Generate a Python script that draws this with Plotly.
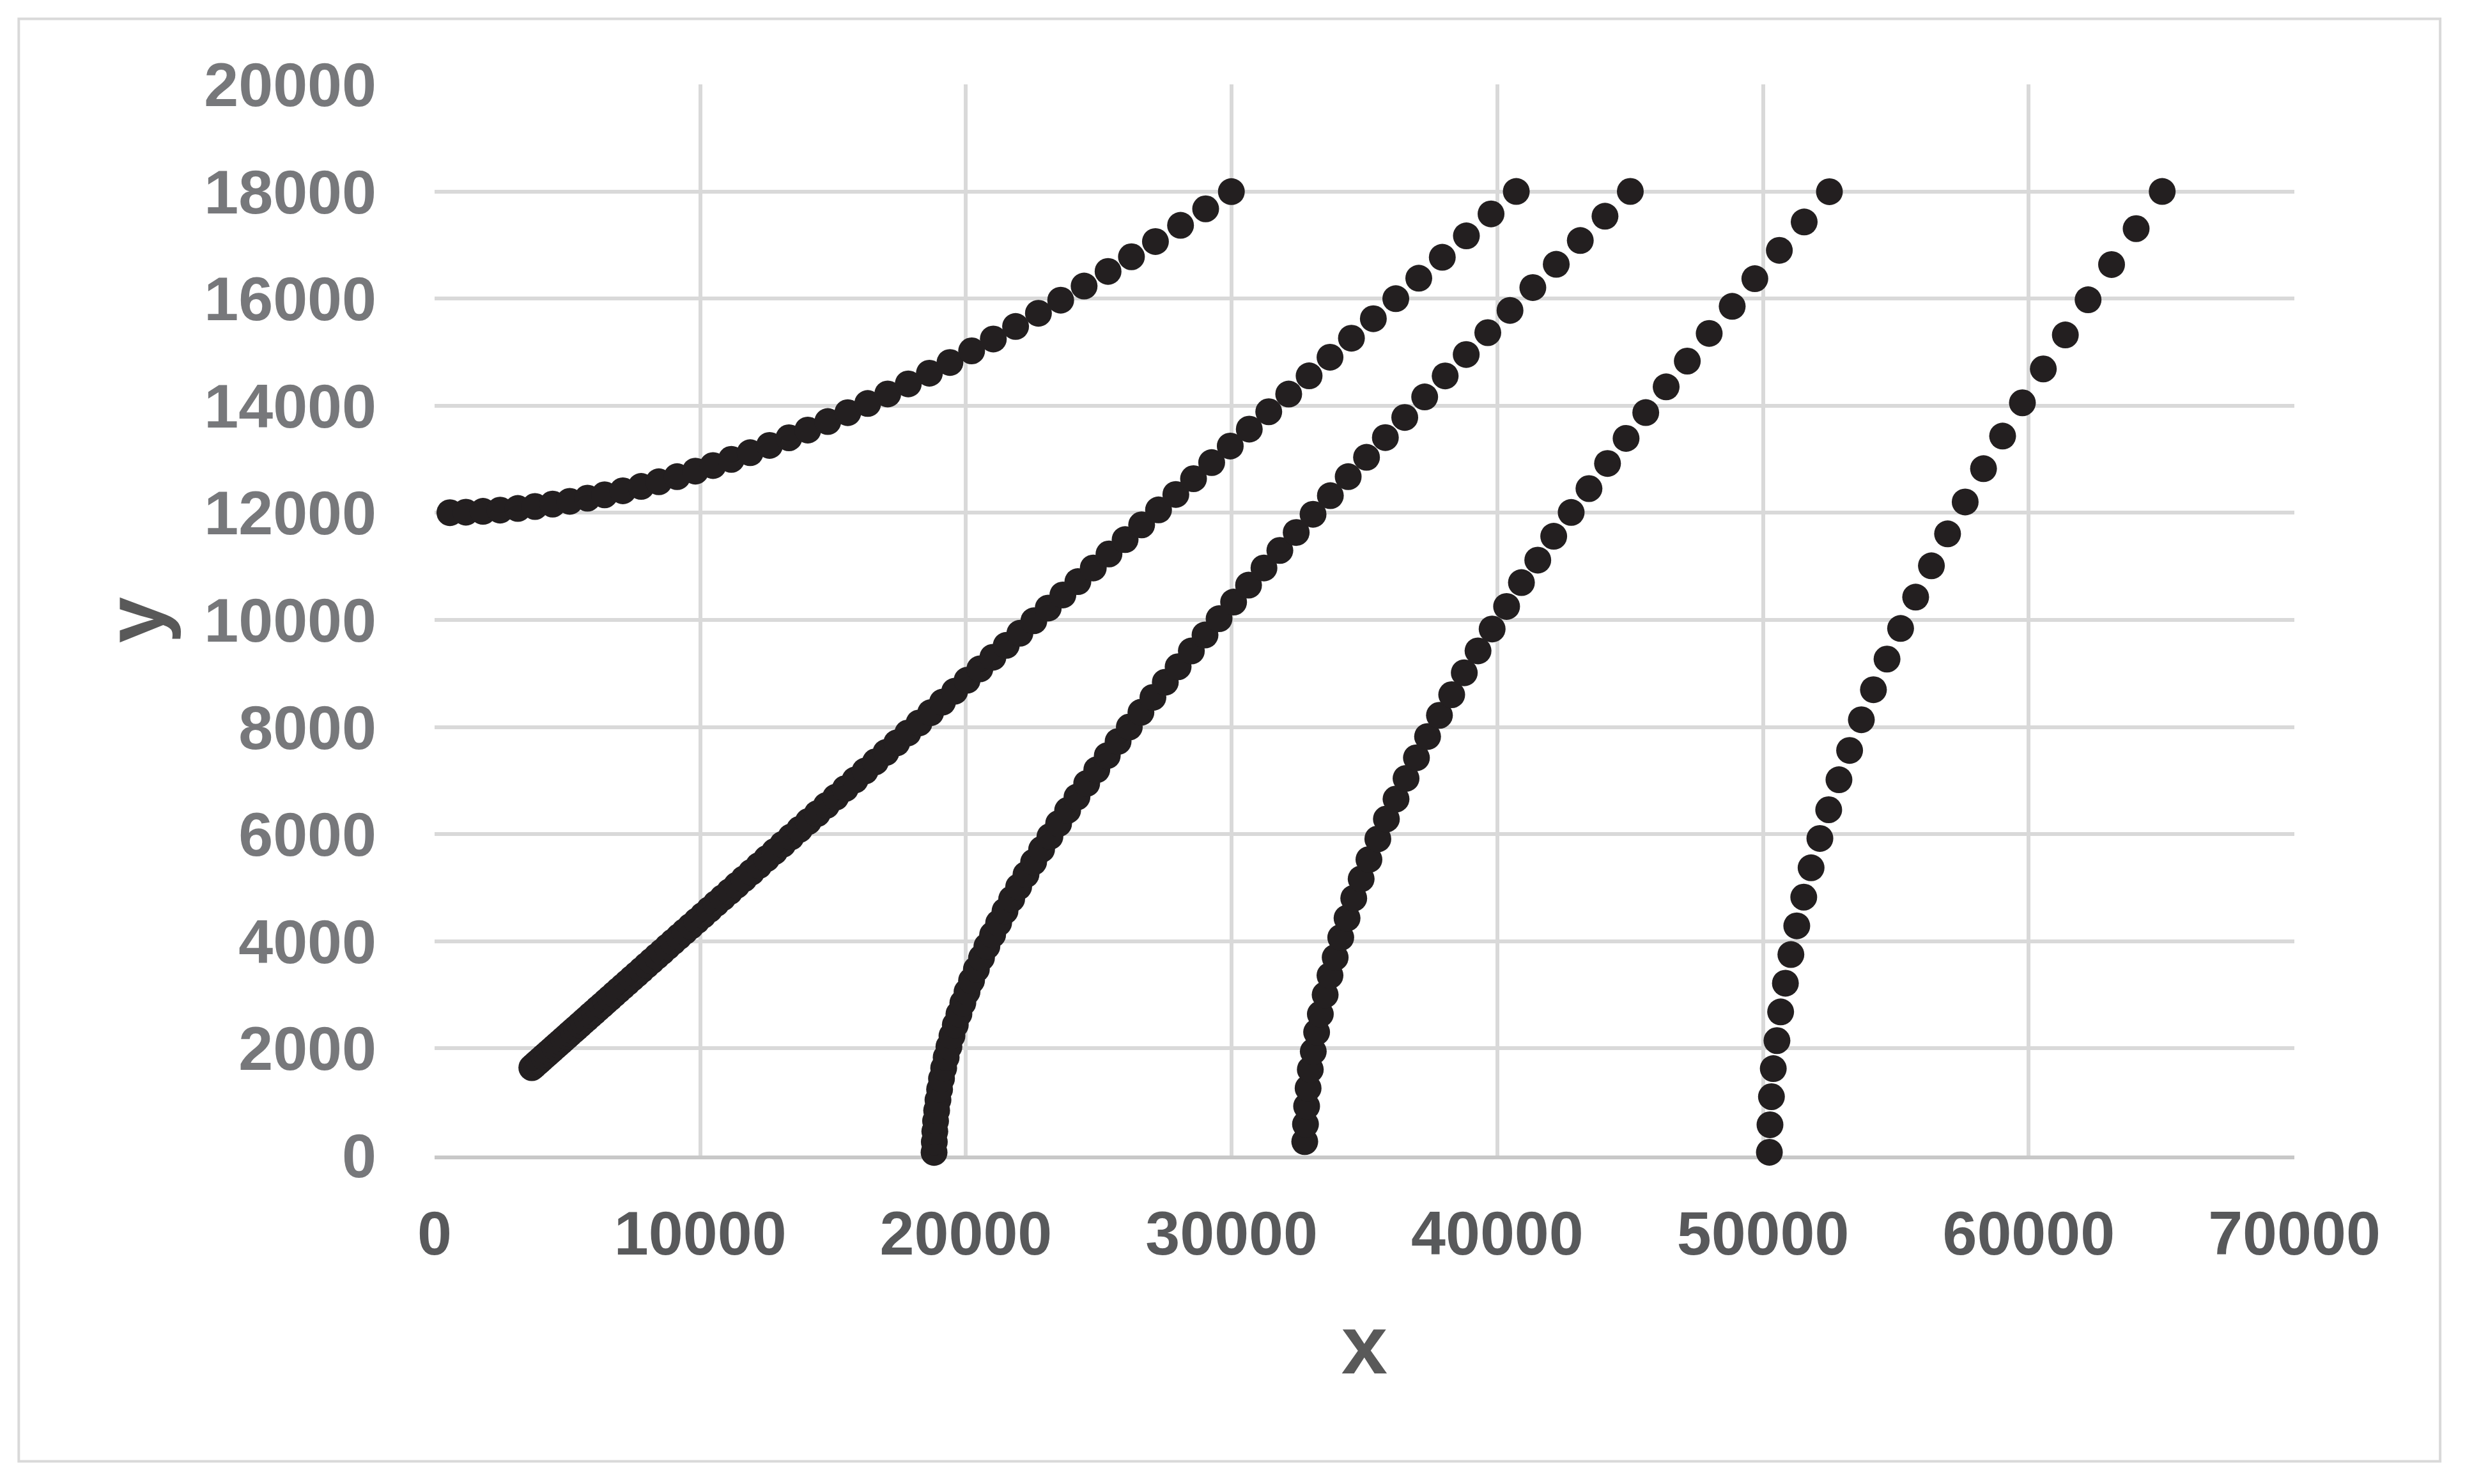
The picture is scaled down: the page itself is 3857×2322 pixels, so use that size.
import plotly.graph_objects as go

# Values (five dotted curves)

# Curve 1: starts near x=0, y=12000
s1_x = [577, 1178, 1823, 2467, 3133, 3778, 4444, 5088, 5755, 6399,
        7087, 7774, 8440, 9128, 9816, 10481, 11169, 11878, 12608, 13338,
        14047, 14799, 15552, 16303, 17055, 17829, 18624, 19398, 20214, 21030,
        21868, 22728, 23566, 24447, 25349, 26229, 27132, 28077, 29022, 29990]
s1_y = [12003, 12012, 12028, 12051, 12082, 12118, 12163, 12214, 12273, 12336,
        12411, 12493, 12580, 12675, 12778, 12883, 12998, 13123, 13259, 13401,
        13545, 13704, 13870, 14041, 14219, 14407, 14607, 14807, 15024, 15246,
        15480, 15726, 15971, 16234, 16508, 16781, 17065, 17368, 17676, 17997]

# Curve 2: almost straight, from (3660, 1640) to (40700, 18000)
s2_x = [3660, 3747, 3837, 3928, 4023, 4119, 4218, 4318, 4422, 4527,
        4636, 4746, 4860, 4975, 5094, 5216, 5341, 5468, 5599, 5733,
        5870, 6010, 6154, 6300, 6451, 6605, 6764, 6926, 7091, 7260,
        7433, 7611, 7793, 7979, 8170, 8365, 8565, 8769, 8979, 9194,
        9414, 9638, 9869, 10105, 10346, 10593, 10847, 11106, 11371, 11643,
        11921, 12206, 12498, 12796, 13102, 13415, 13736, 14065, 14401, 14745,
        15098, 15459, 15829, 16206, 16594, 16990, 17396, 17812, 18237, 18673,
        19119, 19576, 20044, 20524, 21014, 21517, 22031, 22557, 23097, 23648,
        24213, 24792, 25384, 25991, 26613, 27249, 27900, 28566, 29249, 29948,
        30664, 31397, 32148, 32916, 33703, 34509, 35334, 36179, 37044, 37929,
        38836, 39764, 40714]
s2_y = [1641, 1679, 1719, 1759, 1801, 1844, 1887, 1931, 1977, 2024,
        2072, 2120, 2171, 2221, 2274, 2328, 2383, 2439, 2497, 2556,
        2617, 2678, 2742, 2806, 2873, 2941, 3011, 3083, 3156, 3230,
        3307, 3385, 3466, 3548, 3632, 3718, 3806, 3897, 3989, 4084,
        4181, 4280, 4382, 4486, 4593, 4702, 4814, 4928, 5045, 5165,
        5288, 5414, 5543, 5674, 5810, 5948, 6089, 6235, 6383, 6535,
        6691, 6850, 7013, 7180, 7351, 7526, 7705, 7889, 8077, 8269,
        8466, 8668, 8874, 9086, 9303, 9525, 9752, 9984, 10222, 10466,
        10715, 10971, 11232, 11500, 11775, 12055, 12343, 12637, 12938, 13247,
        13563, 13887, 14218, 14557, 14905, 15261, 15625, 15998, 16380, 16771,
        17171, 17581, 18000]

# Curve 3: starts at x=18800 on the x axis
s3_x = [18800, 18809, 18828, 18857, 18897, 18947, 19008, 19080, 19162, 19255,
        19359, 19474, 19599, 19736, 19883, 20041, 20211, 20392, 20585, 20788,
        21004, 21231, 21470, 21721, 21984, 22260, 22548, 22848, 23161, 23488,
        23827, 24179, 24545, 24925, 25319, 25727, 26149, 26586, 27037, 27504,
        27986, 28484, 28998, 29528, 30074, 30637, 31217, 31815, 32430, 33064,
        33716, 34387, 35077, 35786, 36516, 37266, 38037, 38829, 39642, 40478,
        41337, 42218, 43123, 44053, 45006]
s3_y = [58, 254, 449, 645, 842, 1038, 1236, 1434, 1633, 1833,
        2033, 2235, 2439, 2643, 2849, 3057, 3266, 3477, 3691, 3906,
        4123, 4343, 4565, 4789, 5017, 5247, 5480, 5716, 5955, 6198,
        6444, 6694, 6947, 7204, 7466, 7731, 8001, 8275, 8554, 8838,
        9126, 9420, 9719, 10023, 10333, 10649, 10971, 11298, 11633, 11973,
        12320, 12675, 13036, 13405, 13781, 14164, 14556, 14956, 15364, 15780,
        16206, 16640, 17084, 17538, 18001]

# Curve 4: starts near x=32750
s4_x = [32752, 32780, 32822, 32878, 32961, 33073, 33199, 33339, 33520, 33702,
        33897, 34107, 34344, 34596, 34875, 35168, 35503, 35825, 36188, 36565,
        36956, 37375, 37822, 38283, 38757, 39274, 39805, 40349, 40908, 41523,
        42123, 42780, 43450, 44148, 44847, 45587, 46355, 47151, 47975, 48841,
        49693, 50615, 51550, 52500]
s4_y = [259, 584, 920, 1257, 1606, 1942, 2303, 2640, 3001, 3361,
        3698, 4071, 4432, 4804, 5165, 5526, 5911, 6283, 6656, 7041,
        7426, 7823, 8219, 8604, 9013, 9422, 9831, 10252, 10697, 11117,
        11562, 12007, 12452, 12921, 13390, 13871, 14352, 14833, 15350, 15855,
        16372, 16901, 17431, 17996]

# Curve 5: starts near x=50240
s5_x = [50240, 50263, 50318, 50387, 50525, 50664, 50843, 51050, 51271, 51534,
        51810, 52141, 52473, 52859, 53260, 53702, 54157, 54668, 55179, 55746,
        56339, 56947, 57610, 58300, 59019, 59764, 60551, 61380, 62236, 63120,
        64045, 65026]
s5_y = [60, 574, 1098, 1622, 2145, 2681, 3217, 3752, 4288, 4824,
        5372, 5920, 6456, 7016, 7564, 8136, 8697, 9269, 9841, 10426,
        11010, 11607, 12203, 12824, 13433, 14054, 14687, 15321, 15978, 16636,
        17306, 18000]

# Axis ticks
x_ticks = [0, 10000, 20000, 30000, 40000, 50000, 60000, 70000]
y_ticks = [0, 2000, 4000, 6000, 8000, 10000, 12000, 14000, 16000, 18000, 20000]

series = [(s1_x, s1_y), (s2_x, s2_y), (s3_x, s3_y), (s4_x, s4_y), (s5_x, s5_y)]

fig = go.Figure()
for xs, ys in series:
    fig.add_trace(go.Scatter(x=xs, y=ys, mode='markers',
                             marker=dict(size=42, color='#231f20', line=dict(width=0)),
                             cliponaxis=False, showlegend=False))

font_family = 'Liberation Sans, Arial, sans-serif'

fig.update_xaxes(range=[0, 70000],
                 tickvals=x_ticks, ticktext=[str(v) for v in x_ticks],
                 tickfont=dict(family=font_family, size=97, color='#58595b', weight='bold'),
                 ticks='', ticklabelstandoff=33,
                 showgrid=True, gridcolor='#d9d9d9', gridwidth=6,
                 zeroline=False,
                 showline=True, linecolor='#c8c8c8', linewidth=6,
                 layer='below traces',
                 title=dict(text='x', standoff=77,
                            font=dict(family=font_family, size=130, color='#595959', weight='bold')))

fig.update_yaxes(range=[0, 20000],
                 tickvals=y_ticks, ticktext=[str(v) for v in y_ticks],
                 tickfont=dict(family=font_family, size=97, color='#77787b', weight='bold'),
                 ticks='', ticklabelstandoff=90,
                 showgrid=True, gridcolor='#d9d9d9', gridwidth=6,
                 zeroline=False, showline=False,
                 layer='below traces',
                 title=dict(text='y', standoff=18,
                            font=dict(family=font_family, size=130, color='#595959', weight='bold')))

# Thin border around the whole chart
fig.add_shape(type='rect', xref='paper', yref='paper',
              x0=-0.2236, x1=1.0784, y0=-0.2855, y1=1.0612,
              line=dict(color='#d9d9d9', width=4), fillcolor='rgba(0,0,0,0)')

# page body adds ~8px offset, so margins are shifted to compensate
fig.update_layout(width=3857, height=2322,
                  margin=dict(l=672, r=275, t=124, b=522, autoexpand=False),
                  paper_bgcolor='white', plot_bgcolor='white')

fig.write_html("out.html")
